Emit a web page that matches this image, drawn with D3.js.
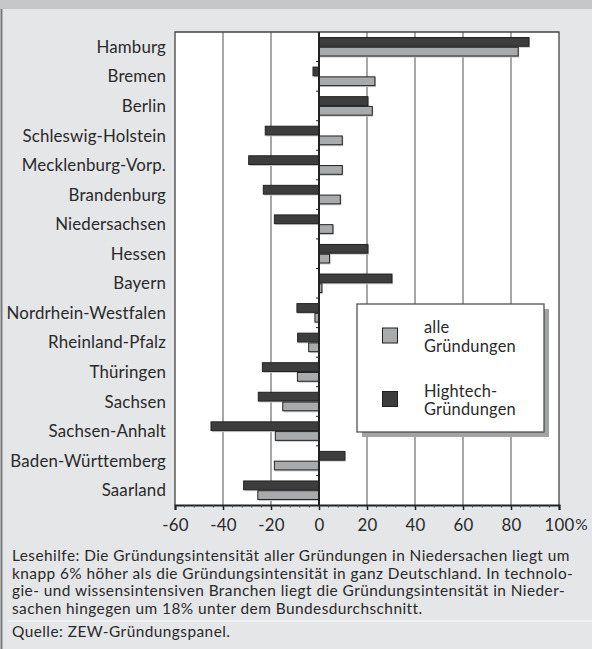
<!DOCTYPE html>
<html>
<head>
<meta charset="utf-8">
<script src="https://cdn.jsdelivr.net/npm/d3@7"></script>
<style>
  body { margin: 0; background: #e5e6e8; }
  svg { display: block; font-family: Lato, sans-serif; }
</style>
</head>
<body>
<svg id="chart" width="592" height="649"></svg>
<script>
// Data
const states = ['Hamburg', 'Bremen', 'Berlin', 'Schleswig-Holstein', 'Mecklenburg-Vorp.',
  'Brandenburg', 'Niedersachsen', 'Hessen', 'Bayern', 'Nordrhein-Westfalen',
  'Rheinland-Pfalz', 'Thüringen', 'Sachsen', 'Sachsen-Anhalt', 'Baden-Württemberg', 'Saarland'];
const alleGruendungen = [83, 23.3, 22.2, 9.7, 9.7, 8.9, 5.8, 4.4, 1.2, -1.7, -4.3, -9, -15.1, -18.2, -18.6, -25.5];
const hightechGruendungen = [87.5, -2.5, 20.4, -22.4, -29.3, -23.2, -18.6, 20.4, 30.4, -9.2, -8.9, -23.6, -25.3, -45, 10.8, -31.4];
const xTicks = [-60, -40, -20, 0, 20, 40, 60, 80, 100];
const seriesNames = ['hightech', 'alle'];
const legendItems = [
  { key: 'alle', lines: ['alle', 'Gründungen'] },
  { key: 'hightech', lines: ['Hightech-', 'Gründungen'] }
];
const noteLines = [
  'Lesehilfe: Die Gründungsintensität aller Gründungen in Niedersachen liegt um',
  'knapp 6% höher als die Gründungsintensität in ganz Deutschland. In technolo-',
  'gie- und wissensintensiven Branchen liegt die Gründungsintensität in Nieder-',
  'sachen hingegen um 18% unter dem Bundesdurchschnitt.'
];
const sourceText = 'Quelle: ZEW-Gründungspanel.';

const colors = { alle: '#a9aaac', hightech: '#3d3d3d' };
const rows = states.map((s, i) => ({ state: s, alle: alleGruendungen[i], hightech: hightechGruendungen[i] }));

const svg = d3.select('#chart');
const W = 592, H = 649;
const plot = { left: 175, right: 559, top: 32, bottom: 505 };

// pick a font size so that a sample string gets the wanted width
function fitSize(sample, width) {
  const t = svg.append('text').attr('font-size', 20).text(sample);
  const w = t.node().getComputedTextLength();
  t.remove();
  return 20 * width / w;
}
const labelSize = fitSize('Schleswig-Holstein', 141);
const legendSize = fitSize('Gründungen', 90);
const noteSize = 15.4;

// Background
svg.append('rect').attr('width', W).attr('height', H).attr('fill', '#e5e6e8');
svg.append('rect').attr('width', W).attr('height', 9).attr('fill', '#c6c7c9');
svg.append('line').attr('x1', 1.5).attr('x2', 1.5).attr('y1', 9).attr('y2', H)
  .attr('stroke', '#7a7a7a').attr('stroke-width', 2);

// Scales
const x = d3.scaleLinear().domain([-60, 100]).range([plot.left, plot.right]);
const y = d3.scaleBand().domain(states).range([plot.top, plot.bottom])
  .paddingInner(0.34).paddingOuter(0.17);
const ySub = d3.scaleBand().domain(seriesNames).range([0, y.bandwidth()]);

// Plot area
svg.append('rect')
  .attr('x', plot.left).attr('y', plot.top)
  .attr('width', plot.right - plot.left).attr('height', plot.bottom - plot.top)
  .attr('fill', '#fff');

// Grid lines
svg.append('g')
  .selectAll('line')
  .data(xTicks.filter(t => t !== 0 && t !== -60 && t !== 100))
  .enter()
  .append('line')
  .attr('x1', d => x(d)).attr('x2', d => x(d))
  .attr('y1', plot.top).attr('y2', plot.bottom)
  .attr('stroke', '#8a8a8a').attr('stroke-width', 1.5);

// Plot frame (top, left, right)
svg.append('path')
  .attr('d', `M${plot.left},${plot.bottom}V${plot.top}H${plot.right}V${plot.bottom}`)
  .attr('fill', 'none').attr('stroke', '#444').attr('stroke-width', 1.3);

// Bars
const groups = svg.append('g')
  .selectAll('g')
  .data(rows)
  .enter()
  .append('g')
  .attr('transform', d => `translate(0,${y(d.state)})`);

groups.selectAll('rect.shadow')
  .data(d => seriesNames.map(k => ({ key: k, value: d[k] })))
  .enter()
  .append('rect')
  .attr('class', 'shadow')
  .attr('x', d => Math.min(x(0), x(d.value)) + 1)
  .attr('y', d => ySub(d.key) + 1)
  .attr('width', d => Math.abs(x(d.value) - x(0)))
  .attr('height', ySub.bandwidth())
  .attr('fill', '#c8c8c8');

groups.selectAll('rect.bar')
  .data(d => seriesNames.map(k => ({ key: k, value: d[k] })))
  .enter()
  .append('rect')
  .attr('class', 'bar')
  .attr('x', d => Math.min(x(0), x(d.value)))
  .attr('y', d => ySub(d.key) + 0.5)
  .attr('width', d => Math.abs(x(d.value) - x(0)))
  .attr('height', ySub.bandwidth() - 1)
  .attr('fill', d => colors[d.key])
  .attr('stroke', '#222').attr('stroke-width', 1);

// Zero line with category ticks
svg.append('line')
  .attr('x1', x(0)).attr('x2', x(0))
  .attr('y1', plot.top).attr('y2', plot.bottom)
  .attr('stroke', '#222').attr('stroke-width', 2);
svg.append('g')
  .selectAll('line')
  .data(states.slice(1))
  .enter()
  .append('line')
  .attr('x1', x(0) - 3).attr('x2', x(0))
  .attr('y1', d => y(d) - y.step() * y.paddingInner() / 2)
  .attr('y2', d => y(d) - y.step() * y.paddingInner() / 2)
  .attr('stroke', '#222').attr('stroke-width', 1);

// Category labels
svg.append('g')
  .selectAll('text')
  .data(states)
  .enter()
  .append('text')
  .attr('x', 166)
  .attr('y', d => y(d) + y.bandwidth() / 2)
  .attr('dy', '0.36em')
  .attr('text-anchor', 'end')
  .attr('font-size', labelSize)
  .attr('letter-spacing', 0.15)
  .attr('fill', '#2a2a2a')
  .text(d => d);

// X axis
const xAxis = d3.axisBottom(x).tickValues(xTicks).tickSize(5).tickFormat(d => String(d));
const axisG = svg.append('g')
  .attr('transform', `translate(0,${plot.bottom})`)
  .call(xAxis);
axisG.select('.domain').attr('stroke', '#222').attr('stroke-width', 2);
axisG.selectAll('.tick line').attr('stroke', '#222').attr('stroke-width', 1.5);
axisG.selectAll('.tick text')
  .attr('y', 26).attr('dy', null)
  .attr('font-size', labelSize).attr('fill', '#2a2a2a')
  .attr('letter-spacing', 0.3)
  .attr('font-family', 'Lato, sans-serif');
// minor ticks
svg.append('g')
  .selectAll('line')
  .data(d3.range(-60, 101, 4).filter(v => v % 20 !== 0))
  .enter()
  .append('line')
  .attr('x1', d => x(d)).attr('x2', d => x(d))
  .attr('y1', plot.bottom).attr('y2', plot.bottom + 2.5)
  .attr('stroke', '#444').attr('stroke-width', 1);
const lastTick = axisG.selectAll('.tick text').filter(d => d === 100).node();
svg.append('text')
  .attr('x', x(100) + lastTick.getComputedTextLength() / 2 + 1)
  .attr('y', plot.bottom + 25)
  .attr('font-size', labelSize * 0.92).attr('fill', '#2a2a2a')
  .text('%');

// Legend
const lg = { x: 357, y: 304, w: 187, h: 128 };
svg.append('rect').attr('x', lg.x + 5).attr('y', lg.y + 5).attr('width', lg.w).attr('height', lg.h)
  .attr('fill', '#a3a4a6');
svg.append('rect').attr('x', lg.x).attr('y', lg.y).attr('width', lg.w).attr('height', lg.h)
  .attr('fill', '#fff').attr('stroke', '#444').attr('stroke-width', 1.2);
const legendG = svg.append('g')
  .selectAll('g')
  .data(legendItems)
  .enter()
  .append('g')
  .attr('transform', (d, i) => `translate(${lg.x}, ${lg.y + 24 + i * 63.5})`);
legendG.append('rect')
  .attr('x', 25.5).attr('y', 0).attr('width', 15).attr('height', 15)
  .attr('fill', d => colors[d.key]).attr('stroke', '#222').attr('stroke-width', 1);
legendG.selectAll('text')
  .data(d => d.lines)
  .enter()
  .append('text')
  .attr('x', 67)
  .attr('y', (d, i) => 5 + i * 18.5)
  .attr('font-size', legendSize).attr('fill', '#2a2a2a')
  .attr('letter-spacing', 0.2)
  .text(d => d);

// Note
svg.append('g')
  .selectAll('text')
  .data(noteLines)
  .enter()
  .append('text')
  .attr('x', 12)
  .attr('y', (d, i) => 561 + i * 17.7)
  .attr('font-size', noteSize).attr('fill', '#2a2a2a')
  .attr('letter-spacing', 0.45)
  .text(d => d);
svg.append('line').attr('x1', 8).attr('x2', W).attr('y1', 621).attr('y2', 621)
  .attr('stroke', '#f6f6f6').attr('stroke-width', 1.5);
svg.append('text')
  .attr('x', 12).attr('y', 637)
  .attr('font-size', noteSize).attr('fill', '#2a2a2a')
  .attr('letter-spacing', 0.45)
  .text(sourceText);
</script>
</body>
</html>
